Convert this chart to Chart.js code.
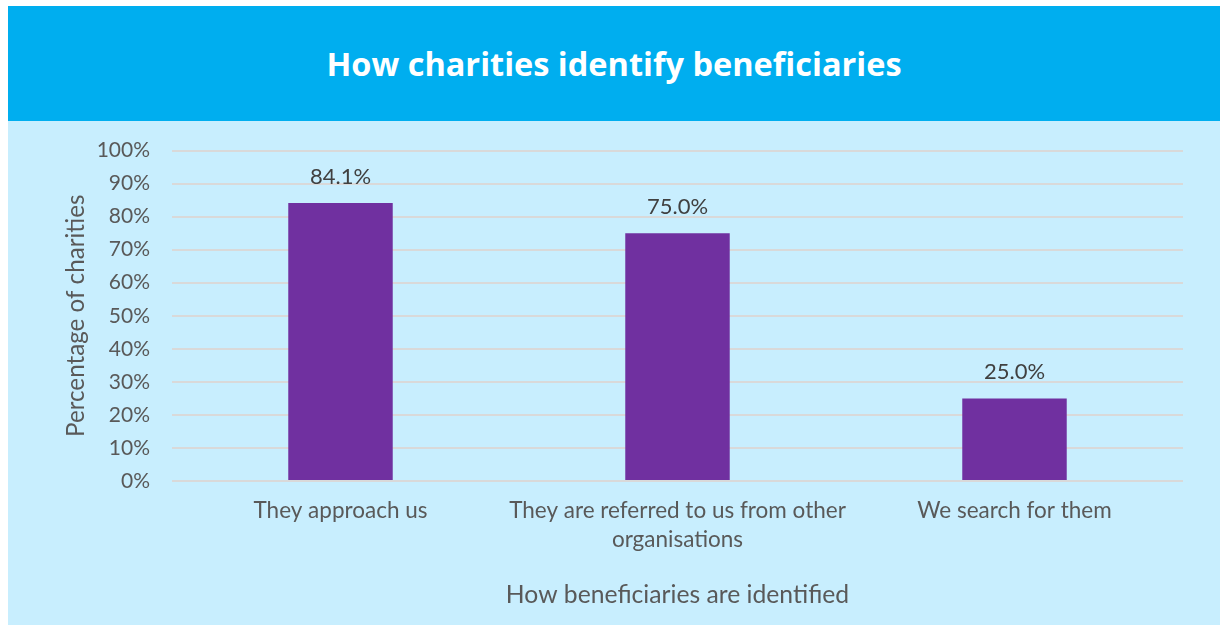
<!DOCTYPE html>
<html>
<head>
<meta charset="utf-8">
<title>How charities identify beneficiaries</title>
<script src="https://cdn.jsdelivr.net/npm/chart.js@4/dist/chart.umd.min.js"></script>
<style>
  html, body { margin: 0; padding: 0; background: #ffffff; }
  body { width: 1220px; height: 625px; position: relative; overflow: hidden; }
  #panel { position: absolute; left: 8px; top: 6px; width: 1212px; height: 619px; background: #C8EEFE; }
  #header { position: absolute; left: 0; top: 0; width: 1212px; height: 115px; background: #00AEEF;
            display: flex; align-items: center; justify-content: center; }
  #header h1 { margin: 0; color: #ffffff; font-family: "Open Sans", sans-serif;
               font-weight: 700; font-size: 32.5px; }
  #wrap { position: absolute; left: 0; top: 115px; width: 1212px; height: 504px; }
  #wrap canvas { display: block; }
</style>
</head>
<body>
<div id="panel">
  <div id="header"><h1>How charities identify beneficiaries</h1></div>
  <div id="wrap"><canvas id="chart" width="1212" height="504"></canvas></div>
</div>
<script>
// Survey answers and share of charities giving each answer (%)
const categories = [
  "They approach us",
  ["They are referred to us from other", "organisations"],
  "We search for them"
];
const shares = [84.1, 75.0, 25.0];
const yTicks = [0, 10, 20, 30, 40, 50, 60, 70, 80, 90, 100];
const yTitle = "Percentage of charities";
const xTitle = "How beneficiaries are identified";

const FONT = "Lato, 'Open Sans', sans-serif";
const GREY = "#595959";

// Writes each bar's value just above it
const valueLabels = {
  id: "valueLabels",
  afterDatasetsDraw(chart) {
    const ctx = chart.ctx;
    const meta = chart.getDatasetMeta(0);
    ctx.save();
    ctx.font = "22px " + FONT;
    ctx.fillStyle = "#404040";
    ctx.textAlign = "center";
    ctx.textBaseline = "middle";
    meta.data.forEach((bar, i) => {
      ctx.fillText(shares[i].toFixed(1) + "%", bar.x, bar.y - 26);
    });
    ctx.restore();
  }
};

new Chart(document.getElementById("chart"), {
  type: "bar",
  data: {
    labels: categories,
    datasets: [{
      data: shares,
      backgroundColor: "#7030A0",
      borderWidth: 0,
      categoryPercentage: 1.0,
      barPercentage: 0.31
    }]
  },
  options: {
    responsive: false,
    animation: false,
    events: [],
    layout: { autoPadding: false, padding: { top: 29.5, right: 37, left: 0, bottom: 0 } },
    plugins: { legend: { display: false }, tooltip: { enabled: false }, title: { display: false } },
    scales: {
      x: {
        grid: { display: false, drawTicks: false },
        border: { display: false },
        ticks: { color: GREY, font: { family: FONT, size: 22.5, lineHeight: 1.29 }, padding: 15, maxRotation: 0, autoSkip: false },
        title: { display: true, text: xTitle, color: GREY, font: { family: FONT, size: 24.7, lineHeight: 1.2 }, padding: { top: 0, bottom: 15 } },
        afterFit(scale) { scale.height = 144; }
      },
      y: {
        min: 0, max: 100,
        afterBuildTicks(scale) { scale.ticks = yTicks.map(v => ({ value: v })); },
        grid: { color: "#D9D9D9", lineWidth: 2, drawTicks: false },
        border: { display: false },
        ticks: { color: GREY, font: { family: FONT, size: 21 }, padding: 22, callback: v => v + "%" },
        title: { display: true, text: yTitle, color: GREY, font: { family: FONT, size: 24.2, lineHeight: 1.2 }, padding: { top: 54, bottom: 0 } },
        afterFit(scale) {
          scale.width = 164;
          scale.paddingTop = 0;
          scale.paddingBottom = 0;
        }
      }
    }
  },
  plugins: [valueLabels]
});
</script>
</body>
</html>
